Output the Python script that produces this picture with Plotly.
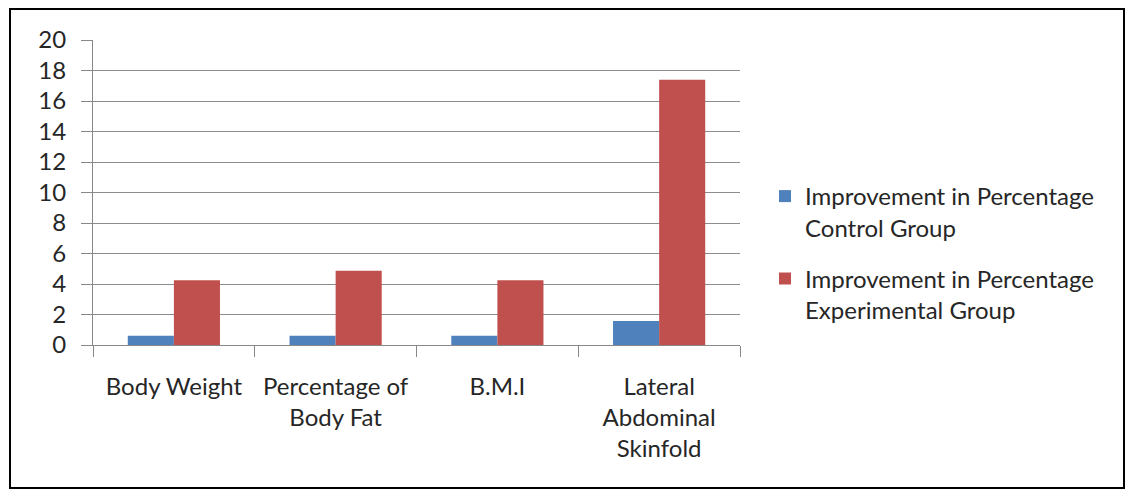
import plotly.graph_objects as go

categories = ["Body Weight", "Percentage of<br>Body Fat", "B.M.I", "Lateral<br>Abdominal<br>Skinfold"]
control = [0.6, 0.6, 0.6, 1.57]
experimental = [4.25, 4.87, 4.25, 17.4]
series_names = ["Improvement in Percentage<br>Control Group", "Improvement in Percentage<br>Experimental Group"]
y_ticks = list(range(0, 21, 2))

W, H = 1133, 496
L, R, T, B = 93, 740, 40, 345

fig = go.Figure()
fig.add_trace(go.Bar(x=categories, y=control, name=series_names[0], legendgroup="control",
                     marker=dict(color="#4F81BD", line=dict(width=0))))
fig.add_trace(go.Bar(x=categories, y=experimental, name=series_names[1], legendgroup="experimental",
                     marker=dict(color="#C0504D", line=dict(width=0))))

pw, ph = R - L, B - T
def px_x(x):
    return (x - L) / pw
def px_y(y):
    return (B - y) / ph

fig.update_layout(
    width=W, height=H,
    margin=dict(l=L, r=W - R, t=T, b=H - B, pad=0),
    paper_bgcolor="white", plot_bgcolor="white",
    barmode="group", bargap=0.43, bargroupgap=0,
    font=dict(family="Lato, Open Sans, sans-serif", size=24, color="#262626"),
    showlegend=True,
    legend=dict(x=px_x(765), y=px_y(253), xanchor="left", yanchor="middle",
                font=dict(size=24, color="#262626"), tracegroupgap=17, valign="top",
                itemwidth=30, bgcolor="rgba(0,0,0,0)"),
    xaxis=dict(showline=True, linecolor="#888888", linewidth=1, ticks="outside",
               tickson="boundaries", ticklen=11, tickcolor="#888888",
               ticklabelstandoff=20,
               tickfont=dict(size=24, color="#262626"), showgrid=False),
    yaxis=dict(range=[0, 20], tickvals=y_ticks, showline=True, linecolor="#888888",
               linewidth=1, ticks="outside", ticklen=11, tickcolor="#888888",
               ticklabelstandoff=10,
               showgrid=True, gridcolor="#8c8c8c", gridwidth=1,
               tickfont=dict(size=24, color="#262626"), zeroline=False),
    shapes=[dict(type="rect", xref="paper", yref="paper",
                 x0=px_x(10), x1=px_x(1124), y0=px_y(488), y1=px_y(9),
                 line=dict(color="black", width=2), fillcolor="rgba(0,0,0,0)", layer="above")],
)

fig.write_html("out.html", config={"displayModeBar": False},
               post_script="document.body.style.margin='0';")
